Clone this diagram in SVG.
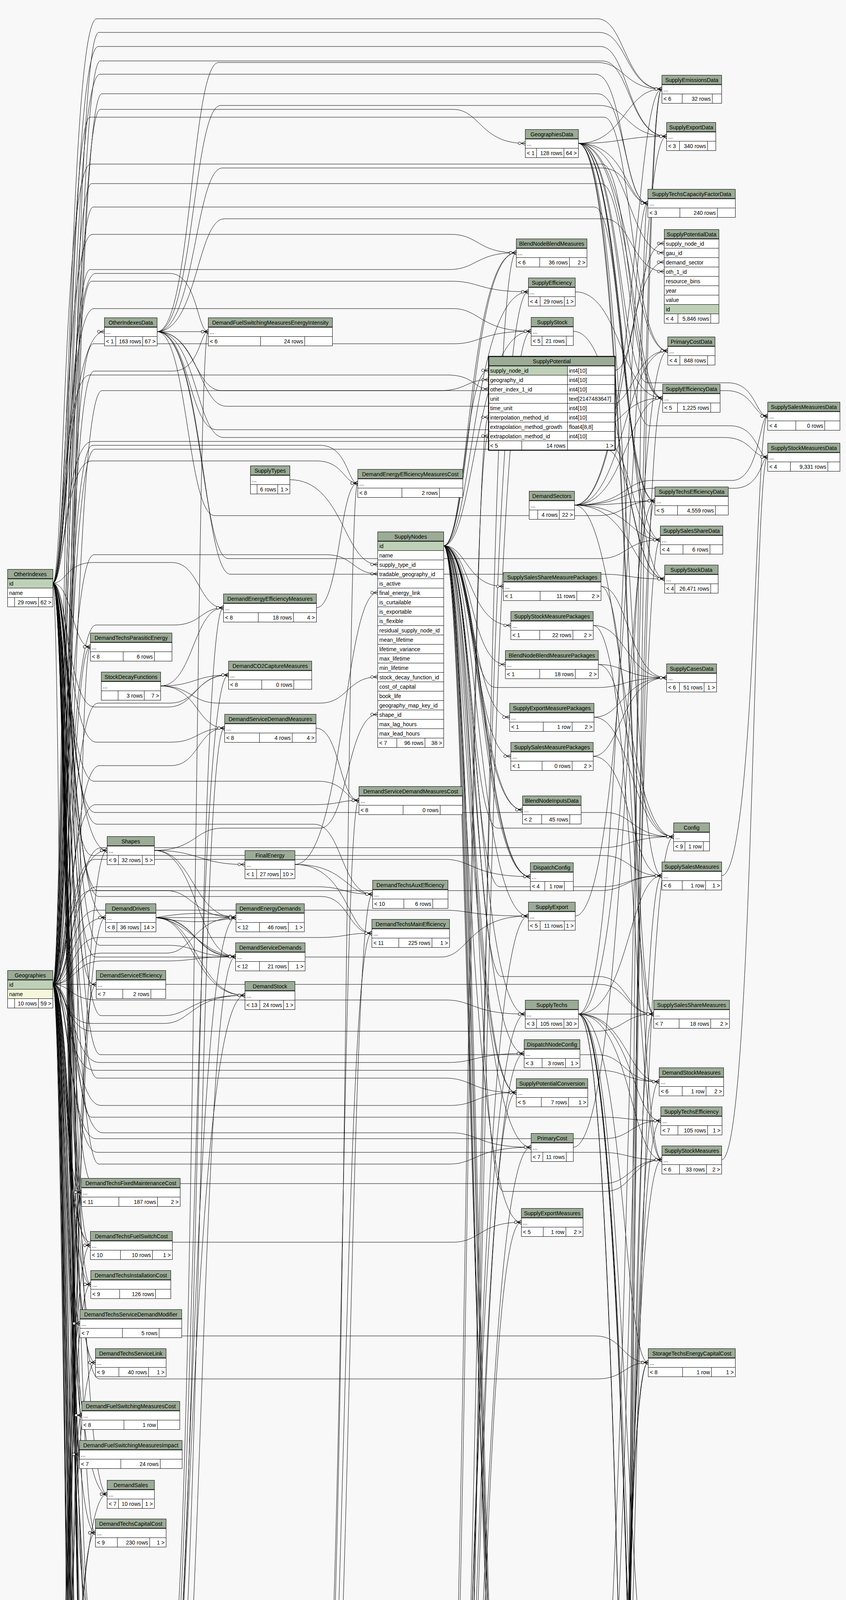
<svg xmlns="http://www.w3.org/2000/svg" width="2167" height="6505" viewBox="0 0 2167 6505">
<style>
text{font-family:"Liberation Sans",Arial,Helvetica,sans-serif;font-size:14px;fill:#000}
.c{text-anchor:middle}
.e{text-anchor:end}
.h{fill:#9bab96;stroke:#000}
.r{fill:#fff;stroke:#000}
.p{fill:#bed1b8;stroke:#000}
.i{fill:#f4f7da;stroke:#000}
.l{stroke:#000;fill:none}
.b{stroke:#000;fill:none;stroke-width:2}
.t{fill:none;stroke:#000;stroke-width:2.5}
#edges path{fill:none;stroke:#000;stroke-width:1;marker-end:url(#cf)}
</style>
<defs>
<marker id="cf" markerUnits="userSpaceOnUse" viewBox="-20 -8 22 16" refX="0" refY="0" markerWidth="22" markerHeight="16" orient="auto" overflow="visible"><path d="M-10 0L0-5M-10 0H0M-10 0L0 5" fill="none" stroke="#000"/><circle cx="-14" cy="0" r="3.5" fill="#fff" stroke="#000"/></marker>
</defs>
<rect width="2167" height="6505" fill="#f8f8f8"/>
<g id="edges">
<path d="M135 1493C170 1493 170 849 267 849"/>
<path d="M135 1493C185 1493 185 1656 231 1656"/>
<path d="M135 1493C178 1493 178 2177 274 2177"/>
<path d="M135 1493C182 1493 182 2349 270 2349"/>
<path d="M135 1493C168 1493 168 3052 208 3052"/>
<path d="M135 1493C172 1493 172 3188 231 3188"/>
<path d="M135 1493C176 1493 176 3288 232 3288"/>
<path d="M135 1493C180 1493 180 3623 209 3623"/>
<path d="M135 1493C184 1493 184 3723 203 3723"/>
<path d="M135 1493C188 1493 188 3825 274 3825"/>
<path d="M135 1493C190 1493 190 3924 244 3924"/>
<path d="M135 1493C192 1493 192 4132 231 4132"/>
<path d="M135 1493C175 1493 175 700 245 700L435 700C505 700 505 849 533 849"/>
<path d="M135 1493C170 1493 170 1440 240 1440L440 1440C510 1440 510 1556 572 1556"/>
<path d="M135 1493C173 1493 173 1810 243 1810L430 1810C500 1810 500 1728 585 1728"/>
<path d="M135 1493C177 1493 177 1900 247 1900L437 1900C507 1900 507 1864 575 1864"/>
<path d="M135 1493C181 1493 181 2280 251 2280L425 2280C495 2280 495 2349 604 2349"/>
<path d="M135 1493C186 1493 186 2420 256 2420L432 2420C502 2420 502 2449 603 2449"/>
<path d="M135 1493C189 1493 189 2600 259 2600L418 2600C488 2600 488 2548 627 2548"/>
<path d="M135 1493C165 1493 165 1180 235 1180L810 1180C880 1180 880 1237 916 1237"/>
<path d="M135 1493C172 1493 172 2000 242 2000L815 2000C885 2000 885 2049 919 2049"/>
<path d="M135 1493C179 1493 179 2110 249 2110L805 2110C875 2110 875 2289 954 2289"/>
<path d="M135 1493C183 1493 183 2295 253 2295L823 2295C893 2295 893 2389 952 2389"/>
<path d="M135 1493C160 1493 160 960 230 960L1145 960C1215 960 1215 996 1251 996"/>
<path d="M135 1493C167 1493 167 600 237 600L1155 600C1225 600 1225 647 1322 647"/>
<path d="M135 1493C171 1493 171 790 241 790L1160 790C1230 790 1230 848 1360 848"/>
<path d="M135 1493C175 1493 175 2450 245 2450L1130 2450C1200 2450 1200 2345 1353 2345"/>
<path d="M135 1493C179 1493 179 2760 249 2760L1140 2760C1210 2760 1210 2797 1322 2797"/>
<path d="M135 1493C183 1493 183 2980 253 2980L1150 2980C1220 2980 1220 2937 1360 2937"/>
<path d="M135 1493C187 1493 187 2700 257 2700L1530 2700C1600 2700 1600 2769 1688 2769"/>
<path d="M135 1493C164 1493 164 2860 234 2860L1540 2860C1610 2860 1610 2869 1692 2869"/>
<path d="M135 1493C168 1493 168 3030 238 3030L1545 3030C1615 3030 1615 2969 1695 2969"/>
<path d="M135 1493C172 1493 172 3420 242 3420L1525 3420C1595 3420 1595 3488 1660 3488"/>
<path d="M135 1493C176 1493 176 4380 246 4380L1535 4380C1605 4380 1605 4429 1683 4429"/>
<path d="M135 1493C180 1493 180 5060 250 5060L1542 5060C1612 5060 1612 5021 1687 5021"/>
<path d="M135 1493C184 1493 184 5140 254 5140L1528 5140C1598 5140 1598 5193 1641 5193"/>
<path d="M135 1493C188 1493 188 5620 258 5620L1538 5620C1608 5620 1608 5583 1674 5583"/>
<path d="M135 1493C191 1493 191 5860 261 5860L1533 5860C1603 5860 1603 5903 1674 5903"/>
<path d="M135 1493C194 1493 194 6130 264 6130L1530 6130C1600 6130 1600 6084 1654 6084"/>
<path d="M135 1493C162 1493 162 6300 232 6300L1526 6300C1596 6300 1596 6348 1651 6348"/>
<path d="M135 1493C166 1493 166 2190 236 2190L1544 2190C1614 2190 1614 2242 1695 2242"/>
<path d="M135 1493C170 1493 170 2520 240 2520L1536 2520C1606 2520 1606 2596 1674 2596"/>
<path d="M135 1493C174 1493 174 2080 244 2080L1550 2080C1620 2080 1620 2142 1725 2142"/>
<path d="M135 1493C178 1493 178 48 248 48L1530 48C1600 48 1600 228 1695 228"/>
<path d="M135 1493C182 1493 182 119 252 119L1538 119C1608 119 1608 349 1707 349"/>
<path d="M135 1493C186 1493 186 190 256 190L1526 190C1596 190 1596 520 1659 520"/>
<path d="M135 1493C163 1493 163 420 233 420L1542 420C1612 420 1612 1019 1697 1019"/>
<path d="M135 1493C167 1493 167 1130 237 1130L1548 1130C1618 1130 1618 1382 1691 1382"/>
<path d="M135 2520L246 2520"/>
<path d="M135 2520C175 2520 175 2177 274 2177"/>
<path d="M135 2520C180 2520 180 2349 270 2349"/>
<path d="M135 2520C186 2520 186 1656 231 1656"/>
<path d="M135 2520C165 2520 165 3052 208 3052"/>
<path d="M135 2520C170 2520 170 3188 231 3188"/>
<path d="M135 2520C174 2520 174 3288 232 3288"/>
<path d="M135 2520C178 2520 178 3388 204 3388"/>
<path d="M135 2520C182 2520 182 3488 244 3488"/>
<path d="M135 2520C186 2520 186 3623 209 3623"/>
<path d="M135 2520C190 2520 190 3723 203 3723"/>
<path d="M135 2520C168 2520 168 3825 274 3825"/>
<path d="M135 2520C172 2520 172 3924 244 3924"/>
<path d="M135 2520C176 2520 176 4132 231 4132"/>
<path d="M135 2520C180 2520 180 4232 251 4232"/>
<path d="M135 2520C184 2520 184 6313 244 6313"/>
<path d="M135 2520C171 2520 171 950 241 950L442 950C512 950 512 849 533 849"/>
<path d="M135 2520C176 2520 176 1600 246 1600L445 1600C515 1600 515 1556 572 1556"/>
<path d="M135 2520C181 2520 181 1800 251 1800L435 1800C505 1800 505 1728 585 1728"/>
<path d="M135 2520C185 2520 185 1960 255 1960L438 1960C508 1960 508 1864 575 1864"/>
<path d="M135 2520C189 2520 189 2440 259 2440L425 2440C495 2440 495 2349 604 2349"/>
<path d="M135 2520C192 2520 192 2460 262 2460L428 2460C498 2460 498 2449 603 2449"/>
<path d="M135 2520C163 2520 163 2620 233 2620L420 2620C490 2620 490 2548 627 2548"/>
<path d="M135 2520C167 2520 167 1140 237 1140L820 1140C890 1140 890 1237 916 1237"/>
<path d="M135 2520C171 2520 171 1420 241 1420L835 1420C905 1420 905 1469 967 1469"/>
<path d="M135 2520C175 2520 175 2060 245 2060L800 2060C870 2060 870 2049 919 2049"/>
<path d="M135 2520C179 2520 179 2270 249 2270L810 2270C880 2270 880 2289 954 2289"/>
<path d="M135 2520C183 2520 183 2400 253 2400L815 2400C885 2400 885 2389 952 2389"/>
<path d="M135 2520C187 2520 187 280 257 280L1160 280C1230 280 1230 367 1345 367"/>
<path d="M135 2520C191 2520 191 1000 261 1000L1125 1000C1195 1000 1195 972 1251 972"/>
<path d="M135 2520C161 2520 161 690 231 690L1150 690C1220 690 1220 647 1322 647"/>
<path d="M135 2520C165 2520 165 720 235 720L1158 720C1228 720 1228 747 1353 747"/>
<path d="M135 2520C169 2520 169 880 239 880L1162 880C1232 880 1232 848 1360 848"/>
<path d="M135 2520C173 2520 173 2200 243 2200L1140 2200C1210 2200 1210 2244 1358 2244"/>
<path d="M135 2520C177 2520 177 2330 247 2330L1135 2330C1205 2330 1205 2345 1353 2345"/>
<path d="M135 2520C181 2520 181 2560 251 2560L1142 2560C1212 2560 1212 2596 1345 2596"/>
<path d="M135 2520C185 2520 185 2720 255 2720L1148 2720C1218 2720 1218 2697 1342 2697"/>
<path d="M135 2520C189 2520 189 2830 259 2830L1152 2830C1222 2830 1222 2797 1322 2797"/>
<path d="M135 2520C193 2520 193 2900 263 2900L1156 2900C1226 2900 1226 2937 1360 2937"/>
<path d="M135 2520C162 2520 162 3180 232 3180L1160 3180C1230 3180 1230 3129 1335 3129"/>
<path d="M135 2520C166 2520 166 4900 236 4900L1145 4900C1215 4900 1215 4945 1353 4945"/>
<path d="M135 2520C170 2520 170 5050 240 5050L1152 5050C1222 5050 1222 5096 1349 5096"/>
<path d="M135 2520C174 2520 174 5230 244 5230L1140 5230C1210 5230 1210 5196 1337 5196"/>
<path d="M135 2520C178 2520 178 5340 248 5340L1156 5340C1226 5340 1226 5297 1353 5297"/>
<path d="M135 2520C182 2520 182 5400 252 5400L1148 5400C1218 5400 1218 5433 1353 5433"/>
<path d="M135 2520C186 2520 186 5570 256 5570L1160 5570C1230 5570 1230 5533 1357 5533"/>
<path d="M135 2520C190 2520 190 2170 260 2170L1542 2170C1612 2170 1612 2142 1725 2142"/>
<path d="M135 2520C164 2520 164 2280 234 2280L1535 2280C1605 2280 1605 2242 1695 2242"/>
<path d="M135 2520C168 2520 168 2640 238 2640L1528 2640C1598 2640 1598 2596 1674 2596"/>
<path d="M135 2520C172 2520 172 2740 242 2740L1533 2740C1603 2740 1603 2769 1688 2769"/>
<path d="M135 2520C176 2520 176 2915 246 2915L1547 2915C1617 2915 1617 2869 1692 2869"/>
<path d="M135 2520C180 2520 180 2950 250 2950L1538 2950C1608 2950 1608 2969 1695 2969"/>
<path d="M135 2520C184 2520 184 3530 254 3530L1530 3530C1600 3530 1600 3488 1660 3488"/>
<path d="M135 2520C188 2520 188 4460 258 4460L1542 4460C1612 4460 1612 4429 1683 4429"/>
<path d="M135 2520C192 2520 192 4980 262 4980L1535 4980C1605 4980 1605 5021 1687 5021"/>
<path d="M135 2520C163 2520 163 5250 233 5250L1525 5250C1595 5250 1595 5193 1641 5193"/>
<path d="M135 2520C167 2520 167 5540 237 5540L1540 5540C1610 5540 1610 5583 1674 5583"/>
<path d="M135 2520C171 2520 171 5950 241 5950L1530 5950C1600 5950 1600 5903 1674 5903"/>
<path d="M135 2520C175 2520 175 6040 245 6040L1522 6040C1592 6040 1592 6084 1654 6084"/>
<path d="M135 2520C179 2520 179 6400 249 6400L1532 6400C1602 6400 1602 6348 1651 6348"/>
<path d="M135 2520C183 2520 183 83 253 83L1535 83C1605 83 1605 228 1695 228"/>
<path d="M135 2520C187 2520 187 156 257 156L1543 156C1613 156 1613 349 1707 349"/>
<path d="M135 2520C191 2520 191 240 261 240L1531 240C1601 240 1601 520 1659 520"/>
<path d="M135 2520C161 2520 161 300 231 300L1547 300C1617 300 1617 898 1710 898"/>
<path d="M135 2520C165 2520 165 470 235 470L1539 470C1609 470 1609 1019 1697 1019"/>
<path d="M135 2520C169 2520 169 530 239 530L1523 530C1593 530 1593 1282 1677 1282"/>
<path d="M135 2520C173 2520 173 1150 243 1150L1551 1150C1621 1150 1621 1482 1702 1482"/>
<path d="M138 4907C190 4907 190 1656 231 1656"/>
<path d="M138 4907C186 4907 186 2177 274 2177"/>
<path d="M138 4907C182 4907 182 2349 270 2349"/>
<path d="M138 4907C178 4907 178 2520 246 2520"/>
<path d="M138 4907C174 4907 174 3052 208 3052"/>
<path d="M138 4907C170 4907 170 3052 208 3052"/>
<path d="M138 4907C166 4907 166 3188 231 3188"/>
<path d="M138 4907C168 4907 168 3288 232 3288"/>
<path d="M138 4907C172 4907 172 3388 204 3388"/>
<path d="M138 4907C176 4907 176 3488 244 3488"/>
<path d="M138 4907C180 4907 180 3623 209 3623"/>
<path d="M138 4907C184 4907 184 3723 203 3723"/>
<path d="M138 4907C188 4907 188 3825 274 3825"/>
<path d="M138 4907C192 4907 192 3924 244 3924"/>
<path d="M138 4907C162 4907 162 4132 231 4132"/>
<path d="M138 4907C165 4907 165 4232 251 4232"/>
<path d="M138 4907C195 4907 195 6313 244 6313"/>
<path d="M138 4907C175 4907 175 4330 245 4330L430 4330C500 4330 500 849 533 849"/>
<path d="M138 4907C178 4907 178 4390 248 4390L435 4390C505 4390 505 1556 572 1556"/>
<path d="M138 4907C181 4907 181 4450 251 4450L425 4450C495 4450 495 1728 585 1728"/>
<path d="M138 4907C184 4907 184 4510 254 4510L440 4510C510 4510 510 1864 575 1864"/>
<path d="M138 4907C187 4907 187 4570 257 4570L420 4570C490 4570 490 2349 604 2349"/>
<path d="M138 4907C190 4907 190 4630 260 4630L445 4630C515 4630 515 2449 603 2449"/>
<path d="M138 4907C193 4907 193 4690 263 4690L415 4690C485 4690 485 2548 627 2548"/>
<path d="M138 4907C176 4907 176 4750 246 4750L815 4750C885 4750 885 1237 916 1237"/>
<path d="M138 4907C179 4907 179 4800 249 4800L805 4800C875 4800 875 2049 919 2049"/>
<path d="M138 4907C182 4907 182 4850 252 4850L825 4850C895 4850 895 2289 954 2289"/>
<path d="M138 4907C185 4907 185 4960 255 4960L810 4960C880 4960 880 2389 952 2389"/>
<path d="M138 4907C188 4907 188 5000 258 5000L1130 5000C1200 5000 1200 1068 1251 1068"/>
<path d="M138 4907C191 4907 191 5020 261 5020L1125 5020C1195 5020 1195 1116 1251 1116"/>
<path d="M138 4907C163 4907 163 5080 233 5080L1165 5080C1235 5080 1235 647 1322 647"/>
<path d="M138 4907C166 4907 166 5120 236 5120L1155 5120C1225 5120 1225 747 1353 747"/>
<path d="M138 4907C169 4907 169 5170 239 5170L1162 5170C1232 5170 1232 848 1360 848"/>
<path d="M138 4907C172 4907 172 5210 242 5210L1142 5210C1212 5210 1212 2345 1353 2345"/>
<path d="M138 4907C175 4907 175 5270 245 5270L1138 5270C1208 5270 1208 2596 1345 2596"/>
<path d="M138 4907C178 4907 178 5300 248 5300L1147 5300C1217 5300 1217 2697 1342 2697"/>
<path d="M138 4907C181 4907 181 5340 251 5340L1152 5340C1222 5340 1222 2797 1322 2797"/>
<path d="M138 4907C184 4907 184 5370 254 5370L1158 5370C1228 5370 1228 2937 1360 2937"/>
<path d="M138 4907C187 4907 187 5400 257 5400L1162 5400C1232 5400 1232 3129 1335 3129"/>
<path d="M138 4907C190 4907 190 4940 260 4940L1135 4940C1205 4940 1205 4945 1353 4945"/>
<path d="M138 4907C193 4907 193 5100 263 5100L1143 5100C1213 5100 1213 5096 1349 5096"/>
<path d="M138 4907C164 4907 164 5190 234 5190L1149 5190C1219 5190 1219 5196 1337 5196"/>
<path d="M138 4907C167 4907 167 5290 237 5290L1156 5290C1226 5290 1226 5297 1353 5297"/>
<path d="M138 4907C170 4907 170 5440 240 5440L1140 5440C1210 5440 1210 5433 1353 5433"/>
<path d="M138 4907C173 4907 173 5520 243 5520L1150 5520C1220 5520 1220 5533 1357 5533"/>
<path d="M138 4907C176 4907 176 5460 246 5460L1555 5460C1625 5460 1625 2142 1725 2142"/>
<path d="M138 4907C179 4907 179 5480 249 5480L1550 5480C1620 5480 1620 2242 1695 2242"/>
<path d="M138 4907C182 4907 182 5500 252 5500L1545 5500C1615 5500 1615 2596 1674 2596"/>
<path d="M138 4907C185 4907 185 5650 255 5650L1540 5650C1610 5650 1610 2769 1688 2769"/>
<path d="M138 4907C188 4907 188 5680 258 5680L1535 5680C1605 5680 1605 2869 1692 2869"/>
<path d="M138 4907C191 4907 191 5710 261 5710L1530 5710C1600 5710 1600 2969 1695 2969"/>
<path d="M138 4907C194 4907 194 5740 264 5740L1526 5740C1596 5740 1596 3488 1660 3488"/>
<path d="M138 4907C161 4907 161 5770 231 5770L1522 5770C1592 5770 1592 3488 1660 3488"/>
<path d="M138 4907C164 4907 164 5800 234 5800L1518 5800C1588 5800 1588 4429 1683 4429"/>
<path d="M138 4907C167 4907 167 5830 237 5830L1550 5830C1620 5830 1620 5021 1687 5021"/>
<path d="M138 4907C170 4907 170 5990 240 5990L1544 5990C1614 5990 1614 5021 1687 5021"/>
<path d="M138 4907C173 4907 173 6020 243 6020L1538 6020C1608 6020 1608 5193 1641 5193"/>
<path d="M138 4907C176 4907 176 6060 246 6060L1533 6060C1603 6060 1603 5583 1674 5583"/>
<path d="M138 4907C179 4907 179 6160 249 6160L1528 6160C1598 6160 1598 5903 1674 5903"/>
<path d="M138 4907C182 4907 182 6200 252 6200L1524 6200C1594 6200 1594 6084 1654 6084"/>
<path d="M138 4907C185 4907 185 6440 255 6440L1520 6440C1590 6440 1590 6348 1651 6348"/>
<path d="M138 4907C188 4907 188 6240 258 6240L1555 6240C1625 6240 1625 228 1695 228"/>
<path d="M138 4907C191 4907 191 6260 261 6260L1552 6260C1622 6260 1622 520 1659 520"/>
<path d="M138 4907C194 4907 194 6280 264 6280L1548 6280C1618 6280 1618 1019 1697 1019"/>
<path d="M138 4907C160 4907 160 6460 230 6460L1545 6460C1615 6460 1615 1282 1677 1282"/>
<path d="M402 849L533 849"/>
<path d="M402 849C490 849 490 160 560 160L1530 160C1600 160 1600 228 1695 228"/>
<path d="M402 849C495 849 495 270 565 270L1536 270C1606 270 1606 349 1707 349"/>
<path d="M402 849C500 849 500 430 570 430L1542 430C1612 430 1612 520 1659 520"/>
<path d="M402 849C505 849 505 560 575 560L1548 560C1618 560 1618 695 1701 695"/>
<path d="M402 849C510 849 510 1040 580 1040L1554 1040C1624 1040 1624 898 1710 898"/>
<path d="M402 849C485 849 485 1100 555 1100L1524 1100C1594 1100 1594 1019 1697 1019"/>
<path d="M402 849C480 849 480 1320 550 1320L1530 1320C1600 1320 1600 1282 1677 1282"/>
<path d="M402 849C515 849 515 1430 585 1430L1536 1430C1606 1430 1606 1382 1691 1382"/>
<path d="M402 849C520 849 520 1470 590 1470L1542 1470C1612 1470 1612 1482 1702 1482"/>
<path d="M402 849C498 849 498 1000 568 1000L1860 1000C1930 1000 1930 1065 1966 1065"/>
<path d="M402 849C503 849 503 1120 573 1120L1855 1120C1925 1120 1925 1170 1966 1170"/>
<path d="M1481 367C1600 367 1600 228 1695 228"/>
<path d="M1481 367C1595 367 1595 349 1707 349"/>
<path d="M1481 367C1605 367 1605 520 1659 520"/>
<path d="M1481 367C1610 367 1610 647 1701 647"/>
<path d="M1481 367C1615 367 1615 898 1710 898"/>
<path d="M1481 367C1620 367 1620 1019 1697 1019"/>
<path d="M1481 367C1590 367 1590 1282 1677 1282"/>
<path d="M1481 367C1597 367 1597 1382 1691 1382"/>
<path d="M1481 367C1603 367 1603 1482 1702 1482"/>
<path d="M1481 367C1608 367 1608 2242 1695 2242"/>
<path d="M1481 367C1612 367 1612 2596 1674 2596"/>
<path d="M1481 367C1617 367 1617 2969 1695 2969"/>
<path d="M1481 367C1590 367 1590 980 1660 980L1865 980C1935 980 1935 1065 1966 1065"/>
<path d="M1481 367C1594 367 1594 1090 1664 1090L1870 1090C1940 1090 1940 1170 1966 1170"/>
<path d="M1471 1293C1595 1293 1595 671 1701 671"/>
<path d="M1471 1293C1600 1293 1600 898 1710 898"/>
<path d="M1471 1293C1605 1293 1605 1019 1697 1019"/>
<path d="M1471 1293C1610 1293 1610 1282 1677 1282"/>
<path d="M1471 1293C1615 1293 1615 1382 1691 1382"/>
<path d="M1471 1293C1620 1293 1620 1482 1702 1482"/>
<path d="M1471 1293C1625 1293 1625 228 1695 228"/>
<path d="M1471 1293C1590 1293 1590 2142 1725 2142"/>
<path d="M1471 1293C1600 1293 1600 1230 1670 1230L1875 1230C1945 1230 1945 1065 1966 1065"/>
<path d="M1471 1293C1604 1293 1604 1250 1674 1250L1880 1250C1950 1250 1950 1170 1966 1170"/>
<path d="M1136 1397C1200 1397 1200 647 1322 647"/>
<path d="M1136 1397C1205 1397 1205 647 1322 647"/>
<path d="M1136 1397C1210 1397 1210 747 1353 747"/>
<path d="M1136 1397C1215 1397 1215 848 1360 848"/>
<path d="M1136 1397C1190 1397 1190 948 1251 948"/>
<path d="M1136 1397C1195 1397 1195 1501 1289 1501"/>
<path d="M1136 1397C1200 1397 1200 1601 1308 1601"/>
<path d="M1136 1397C1205 1397 1205 1701 1294 1701"/>
<path d="M1136 1397C1210 1397 1210 1836 1305 1836"/>
<path d="M1136 1397C1215 1397 1215 1936 1308 1936"/>
<path d="M1136 1397C1220 1397 1220 2073 1338 2073"/>
<path d="M1136 1397C1225 1397 1225 2073 1338 2073"/>
<path d="M1136 1397C1230 1397 1230 2244 1358 2244"/>
<path d="M1136 1397C1235 1397 1235 2244 1358 2244"/>
<path d="M1136 1397C1238 1397 1238 2244 1358 2244"/>
<path d="M1136 1397C1222 1397 1222 2345 1353 2345"/>
<path d="M1136 1397C1218 1397 1218 2596 1345 2596"/>
<path d="M1136 1397C1212 1397 1212 2697 1342 2697"/>
<path d="M1136 1397C1208 1397 1208 2797 1322 2797"/>
<path d="M1136 1397C1203 1397 1203 2797 1322 2797"/>
<path d="M1136 1397C1198 1397 1198 2937 1360 2937"/>
<path d="M1136 1397C1193 1397 1193 3129 1335 3129"/>
<path d="M1136 1397C1205 1397 1205 4945 1353 4945"/>
<path d="M1136 1397C1210 1397 1210 5096 1349 5096"/>
<path d="M1136 1397C1215 1397 1215 5196 1337 5196"/>
<path d="M1136 1397C1220 1397 1220 5297 1353 5297"/>
<path d="M1136 1397C1225 1397 1225 5433 1353 5433"/>
<path d="M1136 1397C1230 1397 1230 5533 1357 5533"/>
<path d="M1136 1397C1200 1397 1200 1760 1270 1760L1530 1760C1600 1760 1600 1735 1707 1735"/>
<path d="M1136 1397C1205 1397 1205 2120 1275 2120L1545 2120C1615 2120 1615 2142 1725 2142"/>
<path d="M1136 1397C1210 1397 1210 2270 1280 2270L1540 2270C1610 2270 1610 2242 1695 2242"/>
<path d="M1136 1397C1215 1397 1215 2500 1285 2500L1535 2500C1605 2500 1605 2596 1674 2596"/>
<path d="M1136 1397C1220 1397 1220 3050 1290 3050L1550 3050C1620 3050 1620 2969 1695 2969"/>
<path d="M1481 2596L1674 2596"/>
<path d="M1481 2596C1600 2596 1600 520 1659 520"/>
<path d="M1481 2596C1605 2596 1605 1282 1677 1282"/>
<path d="M1481 2596C1610 2596 1610 2242 1695 2242"/>
<path d="M1481 2596C1615 2596 1615 2969 1695 2969"/>
<path d="M1481 2596C1620 2596 1620 2869 1692 2869"/>
<path d="M1481 2596C1598 2596 1598 3488 1660 3488"/>
<path d="M1481 2596C1603 2596 1603 4429 1683 4429"/>
<path d="M1481 2596C1608 2596 1608 5021 1687 5021"/>
<path d="M1481 2596C1613 2596 1613 5193 1641 5193"/>
<path d="M1481 2596C1618 2596 1618 5583 1674 5583"/>
<path d="M1481 2596C1623 2596 1623 5903 1674 5903"/>
<path d="M1481 2596C1596 2596 1596 6084 1654 6084"/>
<path d="M1481 2596C1601 2596 1601 6348 1651 6348"/>
<path d="M1481 2596C1606 2596 1606 2769 1688 2769"/>
<path d="M399 2349L604 2349"/>
<path d="M399 2349C480 2335 530 2335 604 2349"/>
<path d="M399 2349C480 2363 530 2363 604 2349"/>
<path d="M399 2349C500 2349 500 2449 603 2449"/>
<path d="M399 2349C490 2360 510 2440 603 2449"/>
<path d="M399 2349C510 2349 490 2449 603 2449"/>
<path d="M399 2349C505 2349 505 2548 627 2548"/>
<path d="M399 2349C495 2349 495 2548 627 2548"/>
<path d="M411 1756C495 1756 495 1556 572 1556"/>
<path d="M411 1756C500 1756 500 1728 585 1728"/>
<path d="M411 1756C505 1756 505 1864 575 1864"/>
<path d="M411 1756C490 1756 490 1800 560 1800L820 1800C890 1800 890 1733 967 1733"/>
<path d="M395 2177C510 2177 510 2213 627 2213"/>
<path d="M395 2177C500 2177 500 2120 570 2120L820 2120C890 2120 890 1829 967 1829"/>
<path d="M395 2177C505 2177 505 2449 603 2449"/>
<path d="M395 2177C495 2177 495 2349 604 2349"/>
<path d="M755 2213C880 2213 880 1517 967 1517"/>
<path d="M755 2213C885 2213 885 2289 954 2289"/>
<path d="M755 2213C890 2213 890 2389 952 2389"/>
<path d="M742 1228C880 1228 880 1445 967 1445"/>
<path d="M810 1556C870 1556 870 1237 916 1237"/>
<path d="M809 1864C870 1864 870 2049 919 2049"/>
<path d="M1539 1501C1610 1501 1610 1735 1707 1735"/>
<path d="M1519 1601C1605 1601 1605 1735 1707 1735"/>
<path d="M1532 1701C1600 1701 1600 1735 1707 1735"/>
<path d="M1521 1836C1595 1836 1595 1735 1707 1735"/>
<path d="M1519 1936C1590 1936 1590 1735 1707 1735"/>
<path d="M1539 1501C1620 1501 1620 2596 1674 2596"/>
<path d="M1519 1601C1625 1601 1625 2969 1695 2969"/>
<path d="M1519 1936C1615 1936 1615 2242 1695 2242"/>
<path d="M1521 1836C1618 1836 1618 2142 1725 2142"/>
<path d="M1532 1701C1612 1701 1612 2142 1725 2142"/>
<path d="M1473 747C1590 747 1590 1019 1697 1019"/>
<path d="M1468 848C1595 848 1595 1482 1702 1482"/>
<path d="M1575 948C1630 948 1630 623 1701 623"/>
<path d="M1468 2937C1615 2937 1615 898 1710 898"/>
<path d="M1473 2345C1620 2345 1620 349 1707 349"/>
<path d="M1478 5096C1625 5096 1625 1382 1691 1382"/>
<path d="M1474 4945C1628 4945 1628 228 1695 228"/>
<path d="M1848 2242C1935 2242 1935 1065 1966 1065"/>
<path d="M1848 2969C1930 2969 1930 1170 1966 1170"/>
</g>
<g id="OtherIndexesData" transform="translate(267.5 813.5)"><rect class="h" width="135" height="24"/><rect class="r" y="24" width="135" height="24"/><rect class="r" y="48" width="135" height="24"/><path class="l" d="M29 48v24M98 48v24"/><path class="b" d="M0 24h135"/><text class="c" x="67.5" y="17">OtherIndexesData</text><text x="4" y="41">...</text><text x="4" y="65">&lt; 1</text><text class="e" x="94" y="65">163 rows</text><text class="e" x="131" y="65">67 &gt;</text></g>
<g id="DemandFuelSwitchingMeasuresEnergyIntensity" transform="translate(533.5 813.5)"><rect class="h" width="318" height="24"/><rect class="r" y="24" width="318" height="24"/><rect class="r" y="48" width="318" height="24"/><path class="l" d="M134 48v24M247 48v24"/><path class="b" d="M0 24h318"/><text class="c" x="159" y="17">DemandFuelSwitchingMeasuresEnergyIntensity</text><text x="4" y="41">...</text><text x="4" y="65">&lt; 6</text><text class="e" x="243" y="65">24 rows</text></g>
<g id="SupplyTypes" transform="translate(641.5 1192.5)"><rect class="h" width="101" height="24"/><rect class="r" y="24" width="101" height="24"/><rect class="r" y="48" width="101" height="24"/><path class="l" d="M17 48v24M70 48v24"/><path class="b" d="M0 24h101"/><text class="c" x="50.5" y="17">SupplyTypes</text><text x="4" y="41">...</text><text class="e" x="66" y="65">6 rows</text><text class="e" x="97" y="65">1 &gt;</text></g>
<g id="OtherIndexes" transform="translate(19.5 1457.5)"><rect class="h" width="116" height="24"/><rect class="p" y="24" width="116" height="24"/><rect class="r" y="48" width="116" height="24"/><rect class="r" y="72" width="116" height="24"/><path class="l" d="M18 72v24M79 72v24"/><path class="b" d="M0 24h116"/><text class="c" x="58" y="17">OtherIndexes</text><text x="4" y="41">id</text><text x="4" y="65">name</text><text class="e" x="75" y="89">29 rows</text><text class="e" x="112" y="89">62 &gt;</text></g>
<g id="DemandEnergyEfficiencyMeasures" transform="translate(572.5 1520.5)"><rect class="h" width="238" height="24"/><rect class="r" y="24" width="238" height="24"/><rect class="r" y="48" width="238" height="24"/><path class="l" d="M89 48v24M179 48v24"/><path class="b" d="M0 24h238"/><text class="c" x="119" y="17">DemandEnergyEfficiencyMeasures</text><text x="4" y="41">...</text><text x="4" y="65">&lt; 8</text><text class="e" x="175" y="65">18 rows</text><text class="e" x="234" y="65">4 &gt;</text></g>
<g id="DemandTechsParasiticEnergy" transform="translate(231.5 1620.5)"><rect class="h" width="209" height="24"/><rect class="r" y="24" width="209" height="24"/><rect class="r" y="48" width="209" height="24"/><path class="l" d="M84 48v24M164 48v24"/><path class="b" d="M0 24h209"/><text class="c" x="104.5" y="17">DemandTechsParasiticEnergy</text><text x="4" y="41">...</text><text x="4" y="65">&lt; 8</text><text class="e" x="160" y="65">6 rows</text></g>
<g id="DemandCO2CaptureMeasures" transform="translate(585.5 1692.5)"><rect class="h" width="213" height="24"/><rect class="r" y="24" width="213" height="24"/><rect class="r" y="48" width="213" height="24"/><path class="l" d="M85 48v24M167 48v24"/><path class="b" d="M0 24h213"/><text class="c" x="106.5" y="17">DemandCO2CaptureMeasures</text><text x="4" y="41">...</text><text x="4" y="65">&lt; 8</text><text class="e" x="163" y="65">0 rows</text></g>
<g id="StockDecayFunctions" transform="translate(259.5 1720.5)"><rect class="h" width="152" height="24"/><rect class="r" y="24" width="152" height="24"/><rect class="r" y="48" width="152" height="24"/><path class="l" d="M43 48v24M110 48v24"/><path class="b" d="M0 24h152"/><text class="c" x="76" y="17">StockDecayFunctions</text><text x="4" y="41">...</text><text class="e" x="106" y="65">3 rows</text><text class="e" x="148" y="65">7 &gt;</text></g>
<g id="DemandServiceDemandMeasures" transform="translate(575.5 1828.5)"><rect class="h" width="234" height="24"/><rect class="r" y="24" width="234" height="24"/><rect class="r" y="48" width="234" height="24"/><path class="l" d="M89 48v24M173 48v24"/><path class="b" d="M0 24h234"/><text class="c" x="117" y="17">DemandServiceDemandMeasures</text><text x="4" y="41">...</text><text x="4" y="65">&lt; 8</text><text class="e" x="169" y="65">4 rows</text><text class="e" x="230" y="65">4 &gt;</text></g>
<g id="Shapes" transform="translate(274.5 2141.5)"><rect class="h" width="121" height="24"/><rect class="r" y="24" width="121" height="24"/><rect class="r" y="48" width="121" height="24"/><path class="l" d="M29 48v24M90 48v24"/><path class="b" d="M0 24h121"/><text class="c" x="60.5" y="17">Shapes</text><text x="4" y="41">...</text><text x="4" y="65">&lt; 9</text><text class="e" x="86" y="65">32 rows</text><text class="e" x="117" y="65">5 &gt;</text></g>
<g id="FinalEnergy" transform="translate(627.5 2177.5)"><rect class="h" width="128" height="24"/><rect class="r" y="24" width="128" height="24"/><rect class="r" y="48" width="128" height="24"/><path class="l" d="M30 48v24M91 48v24"/><path class="b" d="M0 24h128"/><text class="c" x="64" y="17">FinalEnergy</text><text x="4" y="41">...</text><text x="4" y="65">&lt; 1</text><text class="e" x="87" y="65">27 rows</text><text class="e" x="124" y="65">10 &gt;</text></g>
<g id="DemandDrivers" transform="translate(270.5 2313.5)"><rect class="h" width="129" height="24"/><rect class="r" y="24" width="129" height="24"/><rect class="r" y="48" width="129" height="24"/><path class="l" d="M29 48v24M90 48v24"/><path class="b" d="M0 24h129"/><text class="c" x="64.5" y="17">DemandDrivers</text><text x="4" y="41">...</text><text x="4" y="65">&lt; 8</text><text class="e" x="86" y="65">36 rows</text><text class="e" x="125" y="65">14 &gt;</text></g>
<g id="DemandEnergyDemands" transform="translate(604.5 2313.5)"><rect class="h" width="175" height="24"/><rect class="r" y="24" width="175" height="24"/><rect class="r" y="48" width="175" height="24"/><path class="l" d="M60 48v24M134 48v24"/><path class="b" d="M0 24h175"/><text class="c" x="87.5" y="17">DemandEnergyDemands</text><text x="4" y="41">...</text><text x="4" y="65">&lt; 12</text><text class="e" x="130" y="65">46 rows</text><text class="e" x="171" y="65">1 &gt;</text></g>
<g id="DemandServiceDemands" transform="translate(603.5 2413.5)"><rect class="h" width="178" height="24"/><rect class="r" y="24" width="178" height="24"/><rect class="r" y="48" width="178" height="24"/><path class="l" d="M61 48v24M135 48v24"/><path class="b" d="M0 24h178"/><text class="c" x="89" y="17">DemandServiceDemands</text><text x="4" y="41">...</text><text x="4" y="65">&lt; 12</text><text class="e" x="131" y="65">21 rows</text><text class="e" x="174" y="65">1 &gt;</text></g>
<g id="Geographies" transform="translate(19.5 2484.5)"><rect class="h" width="116" height="24"/><rect class="p" y="24" width="116" height="24"/><rect class="i" y="48" width="116" height="24"/><rect class="r" y="72" width="116" height="24"/><path class="l" d="M18 72v24M79 72v24"/><path class="b" d="M0 24h116"/><text class="c" x="58" y="17">Geographies</text><text x="4" y="41">id</text><text x="4" y="65">name</text><text class="e" x="75" y="89">10 rows</text><text class="e" x="112" y="89">59 &gt;</text></g>
<g id="DemandServiceEfficiency" transform="translate(246.5 2484.5)"><rect class="h" width="178" height="24"/><rect class="r" y="24" width="178" height="24"/><rect class="r" y="48" width="178" height="24"/><path class="l" d="M68 48v24M140 48v24"/><path class="b" d="M0 24h178"/><text class="c" x="89" y="17">DemandServiceEfficiency</text><text x="4" y="41">...</text><text x="4" y="65">&lt; 7</text><text class="e" x="136" y="65">2 rows</text></g>
<g id="DemandStock" transform="translate(627.5 2512.5)"><rect class="h" width="128" height="24"/><rect class="r" y="24" width="128" height="24"/><rect class="r" y="48" width="128" height="24"/><path class="l" d="M38 48v24M99 48v24"/><path class="b" d="M0 24h128"/><text class="c" x="64" y="17">DemandStock</text><text x="4" y="41">...</text><text x="4" y="65">&lt; 13</text><text class="e" x="95" y="65">24 rows</text><text class="e" x="124" y="65">1 &gt;</text></g>
<g id="DemandTechsFixedMaintenanceCost" transform="translate(208.5 3016.5)"><rect class="h" width="253" height="24"/><rect class="r" y="24" width="253" height="24"/><rect class="r" y="48" width="253" height="24"/><path class="l" d="M96 48v24M195 48v24"/><path class="b" d="M0 24h253"/><text class="c" x="126.5" y="17">DemandTechsFixedMaintenanceCost</text><text x="4" y="41">...</text><text x="4" y="65">&lt; 11</text><text class="e" x="191" y="65">187 rows</text><text class="e" x="249" y="65">2 &gt;</text></g>
<g id="DemandTechsFuelSwitchCost" transform="translate(231.5 3152.5)"><rect class="h" width="210" height="24"/><rect class="r" y="24" width="210" height="24"/><rect class="r" y="48" width="210" height="24"/><path class="l" d="M77 48v24M159 48v24"/><path class="b" d="M0 24h210"/><text class="c" x="105" y="17">DemandTechsFuelSwitchCost</text><text x="4" y="41">...</text><text x="4" y="65">&lt; 10</text><text class="e" x="155" y="65">10 rows</text><text class="e" x="206" y="65">1 &gt;</text></g>
<g id="DemandTechsInstallationCost" transform="translate(232.5 3252.5)"><rect class="h" width="205" height="24"/><rect class="r" y="24" width="205" height="24"/><rect class="r" y="48" width="205" height="24"/><path class="l" d="M74 48v24M166 48v24"/><path class="b" d="M0 24h205"/><text class="c" x="102.5" y="17">DemandTechsInstallationCost</text><text x="4" y="41">...</text><text x="4" y="65">&lt; 9</text><text class="e" x="162" y="65">126 rows</text></g>
<g id="DemandTechsServiceDemandModifier" transform="translate(204.5 3352.5)"><rect class="h" width="261" height="24"/><rect class="r" y="24" width="261" height="24"/><rect class="r" y="48" width="261" height="24"/><path class="l" d="M109 48v24M203 48v24"/><path class="b" d="M0 24h261"/><text class="c" x="130.5" y="17">DemandTechsServiceDemandModifier</text><text x="4" y="41">...</text><text x="4" y="65">&lt; 7</text><text class="e" x="199" y="65">5 rows</text></g>
<g id="DemandTechsServiceLink" transform="translate(244.5 3452.5)"><rect class="h" width="181" height="24"/><rect class="r" y="24" width="181" height="24"/><rect class="r" y="48" width="181" height="24"/><path class="l" d="M60 48v24M136 48v24"/><path class="b" d="M0 24h181"/><text class="c" x="90.5" y="17">DemandTechsServiceLink</text><text x="4" y="41">...</text><text x="4" y="65">&lt; 9</text><text class="e" x="132" y="65">40 rows</text><text class="e" x="177" y="65">1 &gt;</text></g>
<g id="DemandFuelSwitchingMeasuresCost" transform="translate(209.5 3587.5)"><rect class="h" width="251" height="24"/><rect class="r" y="24" width="251" height="24"/><rect class="r" y="48" width="251" height="24"/><path class="l" d="M108 48v24M194 48v24"/><path class="b" d="M0 24h251"/><text class="c" x="125.5" y="17">DemandFuelSwitchingMeasuresCost</text><text x="4" y="41">...</text><text x="4" y="65">&lt; 8</text><text class="e" x="190" y="65">1 row</text></g>
<g id="DemandFuelSwitchingMeasuresImpact" transform="translate(203.5 3687.5)"><rect class="h" width="263" height="24"/><rect class="r" y="24" width="263" height="24"/><rect class="r" y="48" width="263" height="24"/><path class="l" d="M106 48v24M207 48v24"/><path class="b" d="M0 24h263"/><text class="c" x="131.5" y="17">DemandFuelSwitchingMeasuresImpact</text><text x="4" y="41">...</text><text x="4" y="65">&lt; 7</text><text class="e" x="203" y="65">24 rows</text></g>
<g id="DemandSales" transform="translate(274.5 3789.5)"><rect class="h" width="121" height="24"/><rect class="r" y="24" width="121" height="24"/><rect class="r" y="48" width="121" height="24"/><path class="l" d="M29 48v24M90 48v24"/><path class="b" d="M0 24h121"/><text class="c" x="60.5" y="17">DemandSales</text><text x="4" y="41">...</text><text x="4" y="65">&lt; 7</text><text class="e" x="86" y="65">10 rows</text><text class="e" x="117" y="65">1 &gt;</text></g>
<g id="DemandTechsCapitalCost" transform="translate(244.5 3888.5)"><rect class="h" width="181" height="24"/><rect class="r" y="24" width="181" height="24"/><rect class="r" y="48" width="181" height="24"/><path class="l" d="M56 48v24M139 48v24"/><path class="b" d="M0 24h181"/><text class="c" x="90.5" y="17">DemandTechsCapitalCost</text><text x="4" y="41">...</text><text x="4" y="65">&lt; 9</text><text class="e" x="135" y="65">230 rows</text><text class="e" x="177" y="65">1 &gt;</text></g>
<g id="DemandFlexibleLoadMeasures" transform="translate(231.5 4096.5)"><rect class="h" width="210" height="24"/><rect class="r" y="24" width="210" height="24"/><rect class="r" y="48" width="210" height="24"/><path class="l" d="M77 48v24M155 48v24"/><path class="b" d="M0 24h210"/><text class="c" x="105" y="17">DemandFlexibleLoadMeasures</text><text x="4" y="41">...</text><text x="4" y="65">&lt; 5</text><text class="e" x="151" y="65">9 rows</text><text class="e" x="206" y="65">2 &gt;</text></g>
<g id="DemandSalesMeasures" transform="translate(251.5 4196.5)"><rect class="h" width="167" height="24"/><rect class="r" y="24" width="167" height="24"/><rect class="r" y="48" width="167" height="24"/><path class="l" d="M48 48v24M127 48v24"/><path class="b" d="M0 24h167"/><text class="c" x="83.5" y="17">DemandSalesMeasures</text><text x="4" y="41">...</text><text x="4" y="65">&lt; 8</text><text class="e" x="123" y="65">168 rows</text><text class="e" x="163" y="65">2 &gt;</text></g>
<g id="CleaningMethods" transform="translate(17.5 4871.5)"><rect class="h" width="121" height="24"/><rect class="p" y="24" width="121" height="24"/><rect class="i" y="48" width="121" height="24"/><rect class="r" y="72" width="121" height="24"/><path class="l" d="M20 72v24M74 72v24"/><path class="b" d="M0 24h121"/><text class="c" x="60.5" y="17">CleaningMethods</text><text x="4" y="41">id</text><text x="4" y="65">name</text><text class="e" x="70" y="89">8 rows</text><text class="e" x="117" y="89">108 &gt;</text></g>
<g id="DispatchFeedersAllocation" transform="translate(244.5 6277.5)"><rect class="h" width="183" height="24"/><rect class="r" y="24" width="183" height="24"/><rect class="r" y="48" width="183" height="24"/><path class="l" d="M75 48v24M143 48v24"/><path class="b" d="M0 24h183"/><text class="c" x="91.5" y="17">DispatchFeedersAllocation</text><text x="4" y="41">...</text><text x="4" y="65">&lt; 2</text><text class="e" x="139" y="65">1 row</text></g>
<g id="DemandEnergyEfficiencyMeasuresCost" transform="translate(916.5 1201.5)"><rect class="h" width="269" height="24"/><rect class="r" y="24" width="269" height="24"/><rect class="r" y="48" width="269" height="24"/><path class="l" d="M113 48v24M209 48v24"/><path class="b" d="M0 24h269"/><text class="c" x="134.5" y="17">DemandEnergyEfficiencyMeasuresCost</text><text x="4" y="41">...</text><text x="4" y="65">&lt; 8</text><text class="e" x="205" y="65">2 rows</text></g>
<g id="SupplyNodes" transform="translate(967.5 1361.5)"><rect class="h" width="169" height="24"/><rect class="p" y="24" width="169" height="24"/><rect class="r" y="48" width="169" height="480"/><path class="l" d="M0 72h169M0 96h169M0 120h169M0 144h169M0 168h169M0 192h169M0 216h169M0 240h169M0 264h169M0 288h169M0 312h169M0 336h169M0 360h169M0 384h169M0 408h169M0 432h169M0 456h169M0 480h169M0 504h169"/><rect class="r" y="528" width="169" height="24"/><path class="l" d="M49 528v24M121 528v24"/><path class="b" d="M0 24h169"/><text class="c" x="84.5" y="17">SupplyNodes</text><text x="4" y="41">id</text><text x="4" y="65">name</text><text x="4" y="89">supply_type_id</text><text x="4" y="113">tradable_geography_id</text><text x="4" y="137">is_active</text><text x="4" y="161">final_energy_link</text><text x="4" y="185">is_curtailable</text><text x="4" y="209">is_exportable</text><text x="4" y="233">is_flexible</text><text x="4" y="257">residual_supply_node_id</text><text x="4" y="281">mean_lifetime</text><text x="4" y="305">lifetime_variance</text><text x="4" y="329">max_lifetime</text><text x="4" y="353">min_lifetime</text><text x="4" y="377">stock_decay_function_id</text><text x="4" y="401">cost_of_capital</text><text x="4" y="425">book_life</text><text x="4" y="449">geography_map_key_id</text><text x="4" y="473">shape_id</text><text x="4" y="497">max_lag_hours</text><text x="4" y="521">max_lead_hours</text><text x="4" y="545">&lt; 7</text><text class="e" x="117" y="545">96 rows</text><text class="e" x="165" y="545">38 &gt;</text></g>
<g id="DemandServiceDemandMeasuresCost" transform="translate(919.5 2013.5)"><rect class="h" width="265" height="24"/><rect class="r" y="24" width="265" height="24"/><rect class="r" y="48" width="265" height="24"/><path class="l" d="M113 48v24M208 48v24"/><path class="b" d="M0 24h265"/><text class="c" x="132.5" y="17">DemandServiceDemandMeasuresCost</text><text x="4" y="41">...</text><text x="4" y="65">&lt; 8</text><text class="e" x="204" y="65">0 rows</text></g>
<g id="DemandTechsAuxEfficiency" transform="translate(954.5 2253.5)"><rect class="h" width="193" height="24"/><rect class="r" y="24" width="193" height="24"/><rect class="r" y="48" width="193" height="24"/><path class="l" d="M80 48v24M154 48v24"/><path class="b" d="M0 24h193"/><text class="c" x="96.5" y="17">DemandTechsAuxEfficiency</text><text x="4" y="41">...</text><text x="4" y="65">&lt; 10</text><text class="e" x="150" y="65">6 rows</text></g>
<g id="DemandTechsMainEfficiency" transform="translate(952.5 2353.5)"><rect class="h" width="199" height="24"/><rect class="r" y="24" width="199" height="24"/><rect class="r" y="48" width="199" height="24"/><path class="l" d="M69 48v24M154 48v24"/><path class="b" d="M0 24h199"/><text class="c" x="99.5" y="17">DemandTechsMainEfficiency</text><text x="4" y="41">...</text><text x="4" y="65">&lt; 11</text><text class="e" x="150" y="65">225 rows</text><text class="e" x="195" y="65">1 &gt;</text></g>
<g id="GeographiesData" transform="translate(1345.5 331.5)"><rect class="h" width="136" height="24"/><rect class="r" y="24" width="136" height="24"/><rect class="r" y="48" width="136" height="24"/><path class="l" d="M29 48v24M99 48v24"/><path class="b" d="M0 24h136"/><text class="c" x="68" y="17">GeographiesData</text><text x="4" y="41">...</text><text x="4" y="65">&lt; 1</text><text class="e" x="95" y="65">128 rows</text><text class="e" x="132" y="65">64 &gt;</text></g>
<g id="BlendNodeBlendMeasures" transform="translate(1322.5 611.5)"><rect class="h" width="181" height="24"/><rect class="r" y="24" width="181" height="24"/><rect class="r" y="48" width="181" height="24"/><path class="l" d="M60 48v24M136 48v24"/><path class="b" d="M0 24h181"/><text class="c" x="90.5" y="17">BlendNodeBlendMeasures</text><text x="4" y="41">...</text><text x="4" y="65">&lt; 6</text><text class="e" x="132" y="65">36 rows</text><text class="e" x="177" y="65">2 &gt;</text></g>
<g id="SupplyEfficiency" transform="translate(1353.5 711.5)"><rect class="h" width="120" height="24"/><rect class="r" y="24" width="120" height="24"/><rect class="r" y="48" width="120" height="24"/><path class="l" d="M30 48v24M92 48v24"/><path class="b" d="M0 24h120"/><text class="c" x="60" y="17">SupplyEfficiency</text><text x="4" y="41">...</text><text x="4" y="65">&lt; 4</text><text class="e" x="88" y="65">29 rows</text><text class="e" x="116" y="65">1 &gt;</text></g>
<g id="SupplyStock" transform="translate(1360.5 812.5)"><rect class="h" width="108" height="24"/><rect class="r" y="24" width="108" height="24"/><rect class="r" y="48" width="108" height="24"/><path class="l" d="M28 48v24M90 48v24"/><path class="b" d="M0 24h108"/><text class="c" x="54" y="17">SupplyStock</text><text x="4" y="41">...</text><text x="4" y="65">&lt; 5</text><text class="e" x="86" y="65">21 rows</text></g>
<g id="SupplyPotential" transform="translate(1251.5 912.5)"><rect class="h" width="324" height="24"/><rect class="r" y="24" width="324" height="192"/><rect class="p" y="24" width="202" height="24"/><path class="l" d="M0 48h324M0 72h324M0 96h324M0 120h324M0 144h324M0 168h324M0 192h324M202 24v216"/><rect class="r" y="216" width="324" height="24"/><path class="l" d="M85 216v24M202 216v24"/><path class="b" d="M0 24h324"/><rect class="t" width="324" height="240"/><text class="c" x="162" y="17">SupplyPotential</text><text x="4" y="41">supply_node_id</text><text x="206" y="41">int4[10]</text><text x="4" y="65">geography_id</text><text x="206" y="65">int4[10]</text><text x="4" y="89">other_index_1_id</text><text x="206" y="89">int4[10]</text><text x="4" y="113">unit</text><text x="206" y="113">text[2147483647]</text><text x="4" y="137">time_unit</text><text x="206" y="137">int4[10]</text><text x="4" y="161">interpolation_method_id</text><text x="206" y="161">int4[10]</text><text x="4" y="185">extrapolation_method_growth</text><text x="206" y="185">float4[8,8]</text><text x="4" y="209">extrapolation_method_id</text><text x="206" y="209">int4[10]</text><text x="4" y="233">&lt; 5</text><text class="e" x="197" y="233">14 rows</text><text class="e" x="320" y="233">1 &gt;</text></g>
<g id="DemandSectors" transform="translate(1355.5 1257.5)"><rect class="h" width="116" height="24"/><rect class="r" y="24" width="116" height="24"/><rect class="r" y="48" width="116" height="24"/><path class="l" d="M22 48v24M77 48v24"/><path class="b" d="M0 24h116"/><text class="c" x="58" y="17">DemandSectors</text><text x="4" y="41">...</text><text class="e" x="73" y="65">4 rows</text><text class="e" x="112" y="65">22 &gt;</text></g>
<g id="SupplySalesShareMeasurePackages" transform="translate(1289.5 1465.5)"><rect class="h" width="250" height="24"/><rect class="r" y="24" width="250" height="24"/><rect class="r" y="48" width="250" height="24"/><path class="l" d="M94 48v24M188 48v24"/><path class="b" d="M0 24h250"/><text class="c" x="125" y="17">SupplySalesShareMeasurePackages</text><text x="4" y="41">...</text><text x="4" y="65">&lt; 1</text><text class="e" x="184" y="65">11 rows</text><text class="e" x="246" y="65">2 &gt;</text></g>
<g id="SupplyStockMeasurePackages" transform="translate(1308.5 1565.5)"><rect class="h" width="211" height="24"/><rect class="r" y="24" width="211" height="24"/><rect class="r" y="48" width="211" height="24"/><path class="l" d="M74 48v24M159 48v24"/><path class="b" d="M0 24h211"/><text class="c" x="105.5" y="17">SupplyStockMeasurePackages</text><text x="4" y="41">...</text><text x="4" y="65">&lt; 1</text><text class="e" x="155" y="65">22 rows</text><text class="e" x="207" y="65">2 &gt;</text></g>
<g id="BlendNodeBlendMeasurePackages" transform="translate(1294.5 1665.5)"><rect class="h" width="238" height="24"/><rect class="r" y="24" width="238" height="24"/><rect class="r" y="48" width="238" height="24"/><path class="l" d="M88 48v24M179 48v24"/><path class="b" d="M0 24h238"/><text class="c" x="119" y="17">BlendNodeBlendMeasurePackages</text><text x="4" y="41">...</text><text x="4" y="65">&lt; 1</text><text class="e" x="175" y="65">18 rows</text><text class="e" x="234" y="65">2 &gt;</text></g>
<g id="SupplyExportMeasurePackages" transform="translate(1305.5 1800.5)"><rect class="h" width="216" height="24"/><rect class="r" y="24" width="216" height="24"/><rect class="r" y="48" width="216" height="24"/><path class="l" d="M86 48v24M160 48v24"/><path class="b" d="M0 24h216"/><text class="c" x="108" y="17">SupplyExportMeasurePackages</text><text x="4" y="41">...</text><text x="4" y="65">&lt; 1</text><text class="e" x="156" y="65">1 row</text><text class="e" x="212" y="65">2 &gt;</text></g>
<g id="SupplySalesMeasurePackages" transform="translate(1308.5 1900.5)"><rect class="h" width="211" height="24"/><rect class="r" y="24" width="211" height="24"/><rect class="r" y="48" width="211" height="24"/><path class="l" d="M80 48v24M157 48v24"/><path class="b" d="M0 24h211"/><text class="c" x="105.5" y="17">SupplySalesMeasurePackages</text><text x="4" y="41">...</text><text x="4" y="65">&lt; 1</text><text class="e" x="153" y="65">0 rows</text><text class="e" x="207" y="65">2 &gt;</text></g>
<g id="BlendNodeInputsData" transform="translate(1338.5 2037.5)"><rect class="h" width="150" height="24"/><rect class="r" y="24" width="150" height="24"/><rect class="r" y="48" width="150" height="24"/><path class="l" d="M49 48v24M121 48v24"/><path class="b" d="M0 24h150"/><text class="c" x="75" y="17">BlendNodeInputsData</text><text x="4" y="41">...</text><text x="4" y="65">&lt; 2</text><text class="e" x="117" y="65">45 rows</text></g>
<g id="DispatchConfig" transform="translate(1358.5 2208.5)"><rect class="h" width="110" height="24"/><rect class="r" y="24" width="110" height="24"/><rect class="r" y="48" width="110" height="24"/><path class="l" d="M37 48v24M87 48v24"/><path class="b" d="M0 24h110"/><text class="c" x="55" y="17">DispatchConfig</text><text x="4" y="41">...</text><text x="4" y="65">&lt; 4</text><text class="e" x="83" y="65">1 row</text></g>
<g id="SupplyExport" transform="translate(1353.5 2309.5)"><rect class="h" width="120" height="24"/><rect class="r" y="24" width="120" height="24"/><rect class="r" y="48" width="120" height="24"/><path class="l" d="M30 48v24M92 48v24"/><path class="b" d="M0 24h120"/><text class="c" x="60" y="17">SupplyExport</text><text x="4" y="41">...</text><text x="4" y="65">&lt; 5</text><text class="e" x="88" y="65">11 rows</text><text class="e" x="116" y="65">1 &gt;</text></g>
<g id="SupplyTechs" transform="translate(1345.5 2560.5)"><rect class="h" width="136" height="24"/><rect class="r" y="24" width="136" height="24"/><rect class="r" y="48" width="136" height="24"/><path class="l" d="M29 48v24M99 48v24"/><path class="b" d="M0 24h136"/><text class="c" x="68" y="17">SupplyTechs</text><text x="4" y="41">...</text><text x="4" y="65">&lt; 3</text><text class="e" x="95" y="65">105 rows</text><text class="e" x="132" y="65">30 &gt;</text></g>
<g id="DispatchNodeConfig" transform="translate(1342.5 2661.5)"><rect class="h" width="143" height="24"/><rect class="r" y="24" width="143" height="24"/><rect class="r" y="48" width="143" height="24"/><path class="l" d="M46 48v24M106 48v24"/><path class="b" d="M0 24h143"/><text class="c" x="71.5" y="17">DispatchNodeConfig</text><text x="4" y="41">...</text><text x="4" y="65">&lt; 3</text><text class="e" x="102" y="65">3 rows</text><text class="e" x="139" y="65">1 &gt;</text></g>
<g id="SupplyPotentialConversion" transform="translate(1322.5 2761.5)"><rect class="h" width="183" height="24"/><rect class="r" y="24" width="183" height="24"/><rect class="r" y="48" width="183" height="24"/><path class="l" d="M64 48v24M134 48v24"/><path class="b" d="M0 24h183"/><text class="c" x="91.5" y="17">SupplyPotentialConversion</text><text x="4" y="41">...</text><text x="4" y="65">&lt; 5</text><text class="e" x="130" y="65">7 rows</text><text class="e" x="179" y="65">1 &gt;</text></g>
<g id="PrimaryCost" transform="translate(1360.5 2901.5)"><rect class="h" width="108" height="24"/><rect class="r" y="24" width="108" height="24"/><rect class="r" y="48" width="108" height="24"/><path class="l" d="M30 48v24M90 48v24"/><path class="b" d="M0 24h108"/><text class="c" x="54" y="17">PrimaryCost</text><text x="4" y="41">...</text><text x="4" y="65">&lt; 7</text><text class="e" x="86" y="65">11 rows</text></g>
<g id="SupplyExportMeasures" transform="translate(1335.5 3093.5)"><rect class="h" width="158" height="24"/><rect class="r" y="24" width="158" height="24"/><rect class="r" y="48" width="158" height="24"/><path class="l" d="M56 48v24M114 48v24"/><path class="b" d="M0 24h158"/><text class="c" x="79" y="17">SupplyExportMeasures</text><text x="4" y="41">...</text><text x="4" y="65">&lt; 5</text><text class="e" x="110" y="65">1 row</text><text class="e" x="154" y="65">2 &gt;</text></g>
<g id="SupplyEmissions" transform="translate(1353.5 4909.5)"><rect class="h" width="121" height="24"/><rect class="r" y="24" width="121" height="24"/><rect class="r" y="48" width="121" height="24"/><path class="l" d="M36 48v24M99 48v24"/><path class="b" d="M0 24h121"/><text class="c" x="60.5" y="17">SupplyEmissions</text><text x="4" y="41">...</text><text x="4" y="65">&lt; 4</text><text class="e" x="95" y="65">24 rows</text></g>
<g id="SupplySalesShare" transform="translate(1349.5 5060.5)"><rect class="h" width="129" height="24"/><rect class="r" y="24" width="129" height="24"/><rect class="r" y="48" width="129" height="24"/><path class="l" d="M43 48v24M104 48v24"/><path class="b" d="M0 24h129"/><text class="c" x="64.5" y="17">SupplySalesShare</text><text x="4" y="41">...</text><text x="4" y="65">&lt; 4</text><text class="e" x="100" y="65">6 rows</text></g>
<g id="SupplyCapacityFactor" transform="translate(1337.5 5160.5)"><rect class="h" width="152" height="24"/><rect class="r" y="24" width="152" height="24"/><rect class="r" y="48" width="152" height="24"/><path class="l" d="M50 48v24M113 48v24"/><path class="b" d="M0 24h152"/><text class="c" x="76" y="17">SupplyCapacityFactor</text><text x="4" y="41">...</text><text x="4" y="65">&lt; 4</text><text class="e" x="109" y="65">2 rows</text><text class="e" x="148" y="65">1 &gt;</text></g>
<g id="SupplyCost" transform="translate(1353.5 5261.5)"><rect class="h" width="120" height="24"/><rect class="r" y="24" width="120" height="24"/><rect class="r" y="48" width="120" height="24"/><path class="l" d="M30 48v24M92 48v24"/><path class="b" d="M0 24h120"/><text class="c" x="60" y="17">SupplyCost</text><text x="4" y="41">...</text><text x="4" y="65">&lt; 7</text><text class="e" x="88" y="65">11 rows</text><text class="e" x="116" y="65">1 &gt;</text></g>
<g id="SupplySales" transform="translate(1353.5 5397.5)"><rect class="h" width="120" height="24"/><rect class="r" y="24" width="120" height="24"/><rect class="r" y="48" width="120" height="24"/><path class="l" d="M30 48v24M92 48v24"/><path class="b" d="M0 24h120"/><text class="c" x="60" y="17">SupplySales</text><text x="4" y="41">...</text><text x="4" y="65">&lt; 4</text><text class="e" x="88" y="65">17 rows</text><text class="e" x="116" y="65">1 &gt;</text></g>
<g id="ImportCost" transform="translate(1357.5 5497.5)"><rect class="h" width="112" height="24"/><rect class="r" y="24" width="112" height="24"/><rect class="r" y="48" width="112" height="24"/><path class="l" d="M30 48v24M83 48v24"/><path class="b" d="M0 24h112"/><text class="c" x="56" y="17">ImportCost</text><text x="4" y="41">...</text><text x="4" y="65">&lt; 6</text><text class="e" x="79" y="65">9 rows</text><text class="e" x="108" y="65">1 &gt;</text></g>
<g id="SupplyEmissionsData" transform="translate(1695.5 192.5)"><rect class="h" width="153" height="24"/><rect class="r" y="24" width="153" height="24"/><rect class="r" y="48" width="153" height="24"/><path class="l" d="M52 48v24M129 48v24"/><path class="b" d="M0 24h153"/><text class="c" x="76.5" y="17">SupplyEmissionsData</text><text x="4" y="41">...</text><text x="4" y="65">&lt; 6</text><text class="e" x="125" y="65">32 rows</text></g>
<g id="SupplyExportData" transform="translate(1707.5 313.5)"><rect class="h" width="126" height="24"/><rect class="r" y="24" width="126" height="24"/><rect class="r" y="48" width="126" height="24"/><path class="l" d="M33 48v24M105 48v24"/><path class="b" d="M0 24h126"/><text class="c" x="63" y="17">SupplyExportData</text><text x="4" y="41">...</text><text x="4" y="65">&lt; 3</text><text class="e" x="101" y="65">340 rows</text></g>
<g id="SupplyTechsCapacityFactorData" transform="translate(1659.5 484.5)"><rect class="h" width="224" height="24"/><rect class="r" y="24" width="224" height="24"/><rect class="r" y="48" width="224" height="24"/><path class="l" d="M82 48v24M178 48v24"/><path class="b" d="M0 24h224"/><text class="c" x="112" y="17">SupplyTechsCapacityFactorData</text><text x="4" y="41">...</text><text x="4" y="65">&lt; 3</text><text class="e" x="174" y="65">240 rows</text></g>
<g id="SupplyPotentialData" transform="translate(1701.5 587.5)"><rect class="h" width="140" height="24"/><rect class="r" y="24" width="140" height="168"/><rect class="p" y="192" width="140" height="24"/><path class="l" d="M0 48h140M0 72h140M0 96h140M0 120h140M0 144h140M0 168h140"/><rect class="r" y="216" width="140" height="24"/><path class="l" d="M35 216v24M119 216v24"/><path class="b" d="M0 24h140"/><text class="c" x="70" y="17">SupplyPotentialData</text><text x="4" y="41">supply_node_id</text><text x="4" y="65">gau_id</text><text x="4" y="89">demand_sector</text><text x="4" y="113">oth_1_id</text><text x="4" y="137">resource_bins</text><text x="4" y="161">year</text><text x="4" y="185">value</text><text x="4" y="209">id</text><text x="4" y="233">&lt; 4</text><text class="e" x="115" y="233">5,846 rows</text></g>
<g id="PrimaryCostData" transform="translate(1710.5 862.5)"><rect class="h" width="121" height="24"/><rect class="r" y="24" width="121" height="24"/><rect class="r" y="48" width="121" height="24"/><path class="l" d="M31 48v24M102 48v24"/><path class="b" d="M0 24h121"/><text class="c" x="60.5" y="17">PrimaryCostData</text><text x="4" y="41">...</text><text x="4" y="65">&lt; 4</text><text class="e" x="98" y="65">848 rows</text></g>
<g id="SupplyEfficiencyData" transform="translate(1697.5 983.5)"><rect class="h" width="147" height="24"/><rect class="r" y="24" width="147" height="24"/><rect class="r" y="48" width="147" height="24"/><path class="l" d="M38 48v24M123 48v24"/><path class="b" d="M0 24h147"/><text class="c" x="73.5" y="17">SupplyEfficiencyData</text><text x="4" y="41">...</text><text x="4" y="65">&lt; 5</text><text class="e" x="119" y="65">1,225 rows</text></g>
<g id="SupplyTechsEfficiencyData" transform="translate(1677.5 1246.5)"><rect class="h" width="188" height="24"/><rect class="r" y="24" width="188" height="24"/><rect class="r" y="48" width="188" height="24"/><path class="l" d="M58 48v24M155 48v24"/><path class="b" d="M0 24h188"/><text class="c" x="94" y="17">SupplyTechsEfficiencyData</text><text x="4" y="41">...</text><text x="4" y="65">&lt; 5</text><text class="e" x="151" y="65">4,559 rows</text></g>
<g id="SupplySalesShareData" transform="translate(1691.5 1346.5)"><rect class="h" width="160" height="24"/><rect class="r" y="24" width="160" height="24"/><rect class="r" y="48" width="160" height="24"/><path class="l" d="M58 48v24M127 48v24"/><path class="b" d="M0 24h160"/><text class="c" x="80" y="17">SupplySalesShareData</text><text x="4" y="41">...</text><text x="4" y="65">&lt; 4</text><text class="e" x="123" y="65">6 rows</text></g>
<g id="SupplyStockData" transform="translate(1702.5 1446.5)"><rect class="h" width="137" height="24"/><rect class="r" y="24" width="137" height="24"/><rect class="r" y="48" width="137" height="24"/><path class="l" d="M26 48v24M118 48v24"/><path class="b" d="M0 24h137"/><text class="c" x="68.5" y="17">SupplyStockData</text><text x="4" y="41">...</text><text x="4" y="65">&lt; 4</text><text class="e" x="114" y="65">26,471 rows</text></g>
<g id="SupplyCasesData" transform="translate(1707.5 1699.5)"><rect class="h" width="128" height="24"/><rect class="r" y="24" width="128" height="24"/><rect class="r" y="48" width="128" height="24"/><path class="l" d="M33 48v24M96 48v24"/><path class="b" d="M0 24h128"/><text class="c" x="64" y="17">SupplyCasesData</text><text x="4" y="41">...</text><text x="4" y="65">&lt; 6</text><text class="e" x="92" y="65">51 rows</text><text class="e" x="124" y="65">1 &gt;</text></g>
<g id="Config" transform="translate(1725.5 2106.5)"><rect class="h" width="92" height="24"/><rect class="r" y="24" width="92" height="24"/><rect class="r" y="48" width="92" height="24"/><path class="l" d="M29 48v24M76 48v24"/><path class="b" d="M0 24h92"/><text class="c" x="46" y="17">Config</text><text x="4" y="41">...</text><text x="4" y="65">&lt; 9</text><text class="e" x="72" y="65">1 row</text></g>
<g id="SupplySalesMeasures" transform="translate(1695.5 2206.5)"><rect class="h" width="153" height="24"/><rect class="r" y="24" width="153" height="24"/><rect class="r" y="48" width="153" height="24"/><path class="l" d="M52 48v24M112 48v24"/><path class="b" d="M0 24h153"/><text class="c" x="76.5" y="17">SupplySalesMeasures</text><text x="4" y="41">...</text><text x="4" y="65">&lt; 6</text><text class="e" x="108" y="65">1 row</text><text class="e" x="149" y="65">1 &gt;</text></g>
<g id="SupplySalesShareMeasures" transform="translate(1674.5 2560.5)"><rect class="h" width="194" height="24"/><rect class="r" y="24" width="194" height="24"/><rect class="r" y="48" width="194" height="24"/><path class="l" d="M65 48v24M146 48v24"/><path class="b" d="M0 24h194"/><text class="c" x="97" y="17">SupplySalesShareMeasures</text><text x="4" y="41">...</text><text x="4" y="65">&lt; 7</text><text class="e" x="142" y="65">18 rows</text><text class="e" x="190" y="65">2 &gt;</text></g>
<g id="DemandStockMeasures" transform="translate(1688.5 2733.5)"><rect class="h" width="165" height="24"/><rect class="r" y="24" width="165" height="24"/><rect class="r" y="48" width="165" height="24"/><path class="l" d="M59 48v24M120 48v24"/><path class="b" d="M0 24h165"/><text class="c" x="82.5" y="17">DemandStockMeasures</text><text x="4" y="41">...</text><text x="4" y="65">&lt; 6</text><text class="e" x="116" y="65">1 row</text><text class="e" x="161" y="65">2 &gt;</text></g>
<g id="SupplyTechsEfficiency" transform="translate(1692.5 2833.5)"><rect class="h" width="157" height="24"/><rect class="r" y="24" width="157" height="24"/><rect class="r" y="48" width="157" height="24"/><path class="l" d="M44 48v24M120 48v24"/><path class="b" d="M0 24h157"/><text class="c" x="78.5" y="17">SupplyTechsEfficiency</text><text x="4" y="41">...</text><text x="4" y="65">&lt; 7</text><text class="e" x="116" y="65">105 rows</text><text class="e" x="153" y="65">1 &gt;</text></g>
<g id="SupplyStockMeasures" transform="translate(1695.5 2933.5)"><rect class="h" width="153" height="24"/><rect class="r" y="24" width="153" height="24"/><rect class="r" y="48" width="153" height="24"/><path class="l" d="M45 48v24M114 48v24"/><path class="b" d="M0 24h153"/><text class="c" x="76.5" y="17">SupplyStockMeasures</text><text x="4" y="41">...</text><text x="4" y="65">&lt; 6</text><text class="e" x="110" y="65">33 rows</text><text class="e" x="149" y="65">2 &gt;</text></g>
<g id="StorageTechsEnergyCapitalCost" transform="translate(1660.5 3452.5)"><rect class="h" width="223" height="24"/><rect class="r" y="24" width="223" height="24"/><rect class="r" y="48" width="223" height="24"/><path class="l" d="M88 48v24M162 48v24"/><path class="b" d="M0 24h223"/><text class="c" x="111.5" y="17">StorageTechsEnergyCapitalCost</text><text x="4" y="41">...</text><text x="4" y="65">&lt; 8</text><text class="e" x="158" y="65">1 row</text><text class="e" x="219" y="65">1 &gt;</text></g>
<g id="SupplyTechsCO2Capture" transform="translate(1683.5 4393.5)"><rect class="h" width="177" height="24"/><rect class="r" y="24" width="177" height="24"/><rect class="r" y="48" width="177" height="24"/><path class="l" d="M57 48v24M133 48v24"/><path class="b" d="M0 24h177"/><text class="c" x="88.5" y="17">SupplyTechsCO2Capture</text><text x="4" y="41">...</text><text x="4" y="65">&lt; 7</text><text class="e" x="129" y="65">28 rows</text><text class="e" x="173" y="65">1 &gt;</text></g>
<g id="SupplyTechsCapitalCost" transform="translate(1687.5 4985.5)"><rect class="h" width="169" height="24"/><rect class="r" y="24" width="169" height="24"/><rect class="r" y="48" width="169" height="24"/><path class="l" d="M48 48v24M128 48v24"/><path class="b" d="M0 24h169"/><text class="c" x="84.5" y="17">SupplyTechsCapitalCost</text><text x="4" y="41">...</text><text x="4" y="65">&lt; 8</text><text class="e" x="124" y="65">102 rows</text><text class="e" x="165" y="65">1 &gt;</text></g>
<g id="SupplyTechsVariableMaintenanceCost" transform="translate(1641.5 5157.5)"><rect class="h" width="259" height="24"/><rect class="r" y="24" width="259" height="24"/><rect class="r" y="48" width="259" height="24"/><path class="l" d="M99 48v24M195 48v24"/><path class="b" d="M0 24h259"/><text class="c" x="129.5" y="17">SupplyTechsVariableMaintenanceCost</text><text x="4" y="41">...</text><text x="4" y="65">&lt; 9</text><text class="e" x="191" y="65">80 rows</text><text class="e" x="255" y="65">1 &gt;</text></g>
<g id="SupplyTechsInstallationCost" transform="translate(1674.5 5547.5)"><rect class="h" width="194" height="24"/><rect class="r" y="24" width="194" height="24"/><rect class="r" y="48" width="194" height="24"/><path class="l" d="M65 48v24M145 48v24"/><path class="b" d="M0 24h194"/><text class="c" x="97" y="17">SupplyTechsInstallationCost</text><text x="4" y="41">...</text><text x="4" y="65">&lt; 8</text><text class="e" x="141" y="65">33 rows</text><text class="e" x="190" y="65">1 &gt;</text></g>
<g id="SupplyTechsCapacityFactor" transform="translate(1674.5 5867.5)"><rect class="h" width="194" height="24"/><rect class="r" y="24" width="194" height="24"/><rect class="r" y="48" width="194" height="24"/><path class="l" d="M65 48v24M145 48v24"/><path class="b" d="M0 24h194"/><text class="c" x="97" y="17">SupplyTechsCapacityFactor</text><text x="4" y="41">...</text><text x="4" y="65">&lt; 7</text><text class="e" x="141" y="65">44 rows</text><text class="e" x="190" y="65">1 &gt;</text></g>
<g id="StorageTechsCapacityCapitalCost" transform="translate(1654.5 6048.5)"><rect class="h" width="235" height="24"/><rect class="r" y="24" width="235" height="24"/><rect class="r" y="48" width="235" height="24"/><path class="l" d="M90 48v24M174 48v24"/><path class="b" d="M0 24h235"/><text class="c" x="117.5" y="17">StorageTechsCapacityCapitalCost</text><text x="4" y="41">...</text><text x="4" y="65">&lt; 8</text><text class="e" x="170" y="65">2 rows</text><text class="e" x="231" y="65">1 &gt;</text></g>
<g id="SupplyTechsFixedMaintenanceCost" transform="translate(1651.5 6312.5)"><rect class="h" width="241" height="24"/><rect class="r" y="24" width="241" height="24"/><rect class="r" y="48" width="241" height="24"/><path class="l" d="M89 48v24M181 48v24"/><path class="b" d="M0 24h241"/><text class="c" x="120.5" y="17">SupplyTechsFixedMaintenanceCost</text><text x="4" y="41">...</text><text x="4" y="65">&lt; 9</text><text class="e" x="177" y="65">75 rows</text><text class="e" x="237" y="65">1 &gt;</text></g>
<g id="SupplySalesMeasuresData" transform="translate(1966.5 1029.5)"><rect class="h" width="185" height="24"/><rect class="r" y="24" width="185" height="24"/><rect class="r" y="48" width="185" height="24"/><path class="l" d="M72 48v24M146 48v24"/><path class="b" d="M0 24h185"/><text class="c" x="92.5" y="17">SupplySalesMeasuresData</text><text x="4" y="41">...</text><text x="4" y="65">&lt; 4</text><text class="e" x="142" y="65">0 rows</text></g>
<g id="SupplyStockMeasuresData" transform="translate(1966.5 1134.5)"><rect class="h" width="185" height="24"/><rect class="r" y="24" width="185" height="24"/><rect class="r" y="48" width="185" height="24"/><path class="l" d="M58 48v24M154 48v24"/><path class="b" d="M0 24h185"/><text class="c" x="92.5" y="17">SupplyStockMeasuresData</text><text x="4" y="41">...</text><text x="4" y="65">&lt; 4</text><text class="e" x="150" y="65">9,331 rows</text></g>
<text x="17" y="6492">Generated by SchemaSpy</text>
</svg>
